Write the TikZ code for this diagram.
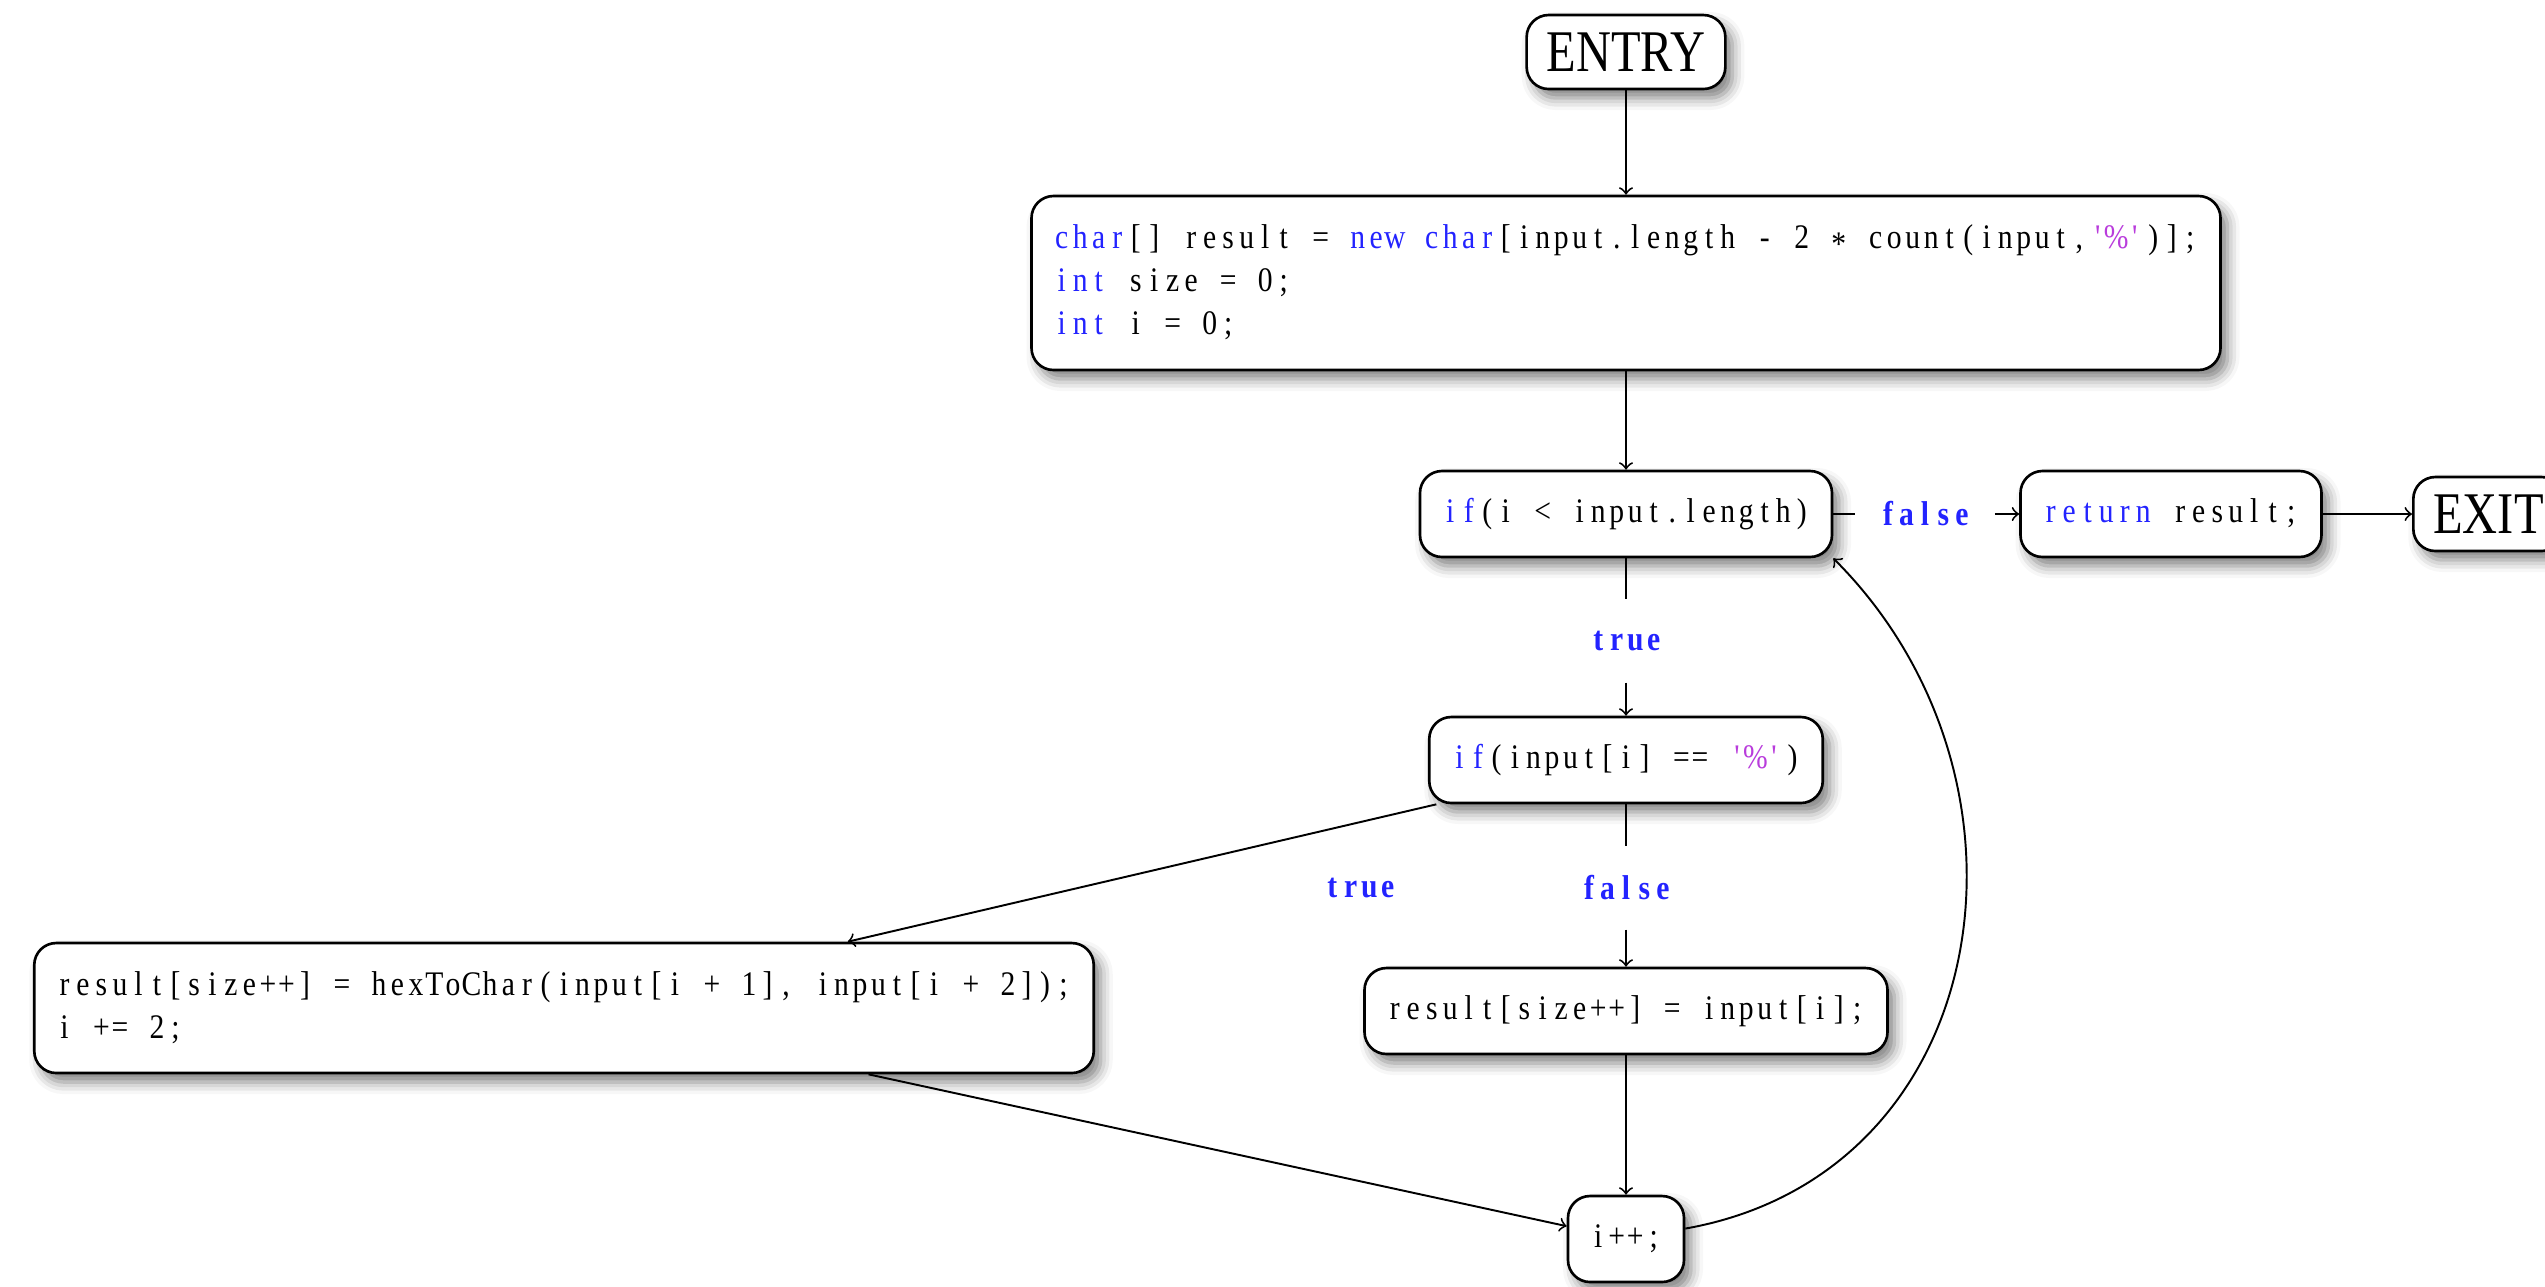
\documentclass[tikz,border=0pt]{standalone}
\usepackage{fontspec}
\setmainfont{Liberation Serif}[FakeStretch=0.82]
\newfontfamily\codefam{Liberation Serif}[FakeStretch=0.86]
\usetikzlibrary{shadows.blur}

\definecolor{kwblue}{RGB}{35,35,255}
\definecolor{strpurple}{RGB}{185,60,220}

% fixed-column code typesetting: every character gets a box of the same width
\newdimen\colw \colw=0.185cm
\ExplSyntaxOn
\NewDocumentCommand\codetxt{m}{\str_map_inline:nn{#1}{\makebox[\colw][c]{##1}}}
\ExplSyntaxOff
\newcommand\codekw[1]{\textcolor{kwblue}{\codetxt{#1}}}
\newcommand\codepct{\textcolor{strpurple}{\codetxt{'}\makebox[\colw]{\%}\codetxt{'}}}
\newcommand\codeast{\makebox[\colw]{\raisebox{-0.4ex}{*}}}
\newcommand\branchlbl[1]{\textcolor{kwblue}{\bfseries\codetxt{#1}}}
\newcommand\codefont{\codefam\fontsize{9.8}{12.2}\selectfont}
\newcommand\termfont{\fontsize{16.8}{19}\selectfont}

\tikzset{
  codebox/.style={draw, line width=0.75pt, rounded corners=0.22cm, fill=white,
    inner xsep=0.21cm, inner ysep=0cm, minimum height=0.86cm, font=\codefont,
    blur shadow={shadow xshift=0.07cm, shadow yshift=-0.09cm,
      shadow blur radius=0.12cm, shadow opacity=50}},
  termbox/.style={codebox, font=\termfont, minimum height=0.74cm, inner xsep=0.2cm},
  lbl/.style={inner xsep=0.23cm, inner ysep=0cm, minimum height=0.82cm, font=\codefont},
  flow/.style={line width=0.55pt},
  flowarr/.style={flow, ->},
}

\begin{document}
\begin{tikzpicture}
\useasboundingbox (0,0) rectangle (25.45,-12.86);

% nodes
\node[termbox] (entry) at (16.26,-0.52) {ENTRY};
\node[codebox, align=left, minimum height=1.74cm] (init) at (16.26,-2.83)
  {\strut\codekw{char}\codetxt{[] result = }\codekw{new}\codetxt{ }\codekw{char}\codetxt{[input.length - 2 }\codeast\codetxt{ count(input,}\codepct\codetxt{)];}\\
   \strut\codekw{int}\codetxt{ size = 0;}\\
   \strut\codekw{int}\codetxt{ i = 0;}};
\node[codebox] (if1) at (16.26,-5.14) {\strut\codekw{if}\codetxt{(i < input.length)}};
\node[lbl] (f1) at (19.25,-5.14) {\branchlbl{false}};
\node[codebox] (ret) at (21.71,-5.14) {\strut\codekw{return}\codetxt{ result;}};
\node[termbox, anchor=west] (exit) at (24.12,-5.14) {EXIT};
\node[lbl] (t1) at (16.26,-6.41) {\branchlbl{true}};
\node[codebox] (if2) at (16.26,-7.60) {\strut\codekw{if}\codetxt{(input[i] == }\codepct\codetxt{)}};
\node[lbl] (t2) at (13.60,-8.88) {\branchlbl{true}};
\node[lbl] (f2) at (16.26,-8.88) {\branchlbl{false}};
\node[codebox, align=left, minimum height=1.30cm] (hex) at (5.64,-10.08)
  {\strut\codetxt{result[size++] = hexToChar(input[i + 1], input[i + 2]);}\\
   \strut\codetxt{i += 2;}};
\node[codebox] (res) at (16.26,-10.11) {\strut\codetxt{result[size++] = input[i];}};
\node[codebox] (inc) at (16.26,-12.39) {\strut\codetxt{i++;}};

% connectors
\draw[flowarr] (entry) -- (init);
\draw[flowarr] (init) -- (if1);
\draw[flow] (if1) -- (f1);
\draw[flowarr] (f1) -- (ret);
\draw[flowarr] (ret) -- (exit);
\draw[flow] (if1) -- (t1);
\draw[flowarr] (t1) -- (if2);
\draw[flowarr] (if2) -- (hex);
\draw[flow] (if2) -- (f2);
\draw[flowarr] (f2) -- (res);
\draw[flowarr] (hex) -- (inc);
\draw[flowarr] (res) -- (inc);
\draw[flowarr] (inc) to[out=10, in=-45, looseness=1.17] (if1.south east);
\end{tikzpicture}
\end{document}
